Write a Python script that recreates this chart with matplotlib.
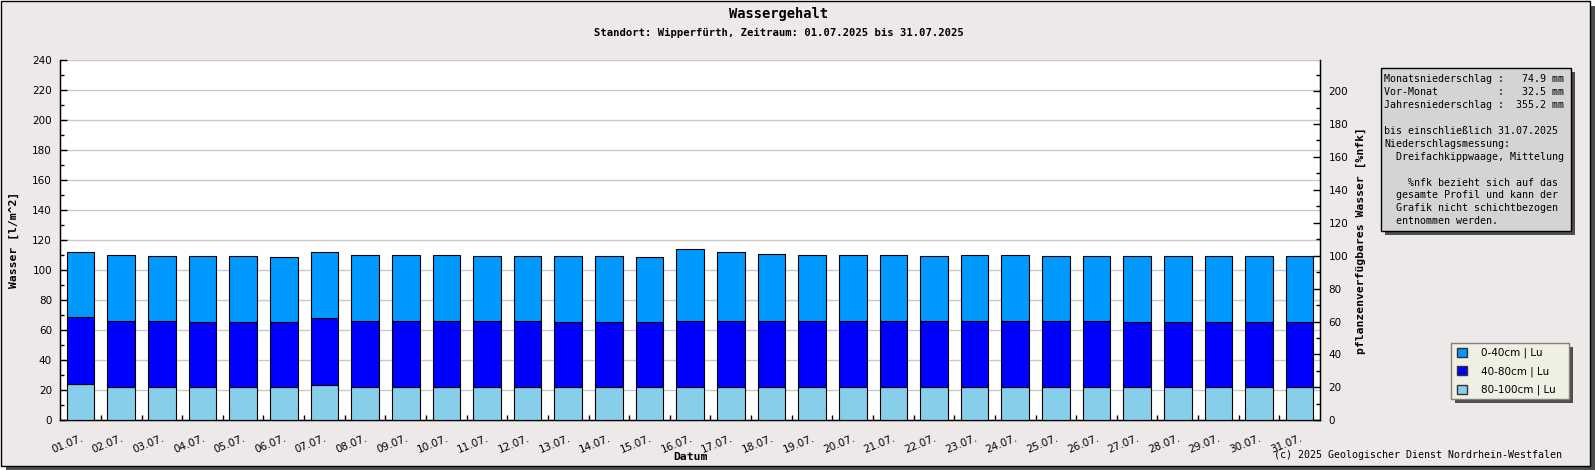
import matplotlib
matplotlib.use("Agg")
import matplotlib.pyplot as plt
from matplotlib.patches import Rectangle, Patch
from matplotlib.ticker import MultipleLocator

# Data, values in l/m^2 per layer
days = ["01.07.", "02.07.", "03.07.", "04.07.", "05.07.", "06.07.", "07.07.",
        "08.07.", "09.07.", "10.07.", "11.07.", "12.07.", "13.07.", "14.07.",
        "15.07.", "16.07.", "17.07.", "18.07.", "19.07.", "20.07.", "21.07.",
        "22.07.", "23.07.", "24.07.", "25.07.", "26.07.", "27.07.", "28.07.",
        "29.07.", "30.07.", "31.07."]
layer_80_100 = [24.4, 22.0, 22.0, 22.0, 22.0, 22.0, 23.8, 22.0, 22.0, 22.0,
                22.0, 22.0, 22.0, 22.0, 22.0, 22.0, 22.0, 22.0, 22.0, 22.0,
                22.0, 22.0, 22.0, 22.0, 22.0, 22.0, 22.0, 22.0, 22.0, 22.0, 22.0]
layer_40_80 = [44.3, 44.0, 44.0, 43.3, 43.3, 43.3, 44.2, 44.0, 44.0, 44.0,
               44.0, 44.0, 43.3, 43.3, 43.3, 44.0, 44.0, 44.0, 44.0, 44.0,
               44.0, 44.0, 44.0, 44.0, 44.0, 44.0, 43.3, 43.3, 43.3, 43.3, 43.3]
layer_0_40 = [43.3, 44.0, 43.3, 44.0, 44.0, 43.4, 44.0, 44.0, 44.0, 44.0,
              43.3, 43.3, 44.0, 44.0, 43.4, 48.0, 46.0, 44.7, 44.0, 44.0,
              44.0, 43.3, 44.0, 44.0, 43.3, 43.3, 44.0, 44.0, 44.0, 44.0, 44.0]
legend_labels = ["0-40cm | Lu", "40-80cm | Lu", "80-100cm | Lu"]

info_lines = [
    "Monatsniederschlag :   74.9 mm",
    "Vor-Monat          :   32.5 mm",
    "Jahresniederschlag :  355.2 mm",
    "",
    "bis einschließlich 31.07.2025",
    "Niederschlagsmessung:",
    "  Dreifachkippwaage, Mittelung",
    "",
    "    %nfk bezieht sich auf das",
    "  gesamte Profil und kann der",
    "  Grafik nicht schichtbezogen",
    "  entnommen werden.",
]

title = "Wassergehalt"
subtitle = "Standort: Wipperfürth, Zeitraum: 01.07.2025 bis 31.07.2025"
copyright_text = "(c) 2025 Geologischer Dienst Nordrhein-Westfalen"

# colours
c_top = "#0099ff"
c_mid = "#0000ff"
c_bot = "#87ceeb"
bg = "#ece9e8"
shadow = "#4e4e4e"
mono = "DejaVu Sans Mono"

W, H = 1595, 470
fig = plt.figure(figsize=(W / 100, H / 100), dpi=100)
fig.patch.set_facecolor("white")


def fx(x):
    return x / W


def fy(y):
    return 1 - y / H


def box(x0, y0, x1, y1, face, edge, off, z):
    # shadow first, then the box itself (pixel coords from top-left)
    fig.add_artist(Rectangle((fx(x0 + off), fy(y1 + off)), (x1 - x0) / W, (y1 - y0) / H,
                             transform=fig.transFigure, facecolor=shadow,
                             edgecolor="none", zorder=z))
    fig.add_artist(Rectangle((fx(x0), fy(y1)), (x1 - x0) / W, (y1 - y0) / H,
                             transform=fig.transFigure, facecolor=face,
                             edgecolor=edge, linewidth=1, zorder=z + 0.1))


# outer frame with shadow
box(0.5, 0.5, 1590, 465.5, bg, "black", 5, -20)

# main axes
ax = fig.add_axes([fx(60.3), fy(420.3), (1320 - 60.3) / W, (420.3 - 60.3) / H])
ax.set_facecolor("white")
x = range(len(days))
bottom2 = [a + b for a, b in zip(layer_80_100, layer_40_80)]
ax.bar(x, layer_80_100, width=0.68, color=c_bot, edgecolor="black", linewidth=0.8, zorder=3)
ax.bar(x, layer_40_80, width=0.68, bottom=layer_80_100, color=c_mid,
       edgecolor="black", linewidth=0.8, zorder=3)
ax.bar(x, layer_0_40, width=0.68, bottom=bottom2, color=c_top,
       edgecolor="black", linewidth=0.8, zorder=3)

ax.set_xlim(-0.5, len(days) - 0.5)
ax.set_ylim(0, 240)
ax.yaxis.set_major_locator(MultipleLocator(20))
ax.yaxis.set_minor_locator(MultipleLocator(10))
ax.yaxis.grid(True, color="#c8c8c8", linewidth=1)
ax.set_axisbelow(True)
ax.tick_params(axis="y", which="major", direction="in", length=5, width=1,
               labelsize=7.5, pad=6)
ax.tick_params(axis="y", which="minor", direction="in", length=3, width=1)

ax.set_xticks(list(x))
ax.set_xticklabels(days, rotation=22, ha="right", rotation_mode="anchor")
ax.set_xticks([i + 0.5 for i in range(len(days) - 1)], minor=True)
ax.tick_params(axis="x", which="major", length=0, labelsize=7.5, pad=9)
ax.tick_params(axis="x", which="minor", direction="in", length=3.6, width=1)

for side in ["left", "right", "bottom"]:
    ax.spines[side].set_color("black")
    ax.spines[side].set_linewidth(1)
ax.spines["top"].set_visible(False)

# right axis (%nfk)
ax2 = ax.twinx()
ax2.set_ylim(0, 218.7)
ax2.yaxis.set_major_locator(MultipleLocator(20))
ax2.yaxis.set_minor_locator(MultipleLocator(10))
ax2.set_yticks(range(0, 201, 20))
ax2.tick_params(axis="y", which="major", direction="in", length=5, width=1,
                labelsize=7.5, pad=6)
ax2.tick_params(axis="y", which="minor", direction="in", length=3, width=1)
ax2.spines["top"].set_visible(False)

# titles and axis labels
fig.text(fx(778.5), fy(14.3), title, ha="center", va="center",
         family=mono, fontweight="bold", fontsize=9.9)
fig.text(fx(778.5), fy(33.3), subtitle, ha="center", va="center",
         family=mono, fontweight="bold", fontsize=7.6)
fig.text(fx(13.5), fy(240.3), "Wasser [l/m^2]", ha="center", va="center",
         rotation=90, family=mono, fontweight="bold", fontsize=8.2)
fig.text(fx(1361), fy(240.3), "pflanzenverfügbares Wasser [%nfk]", ha="center",
         va="center", rotation=90, family=mono, fontweight="bold", fontsize=8.2)
fig.text(fx(690), fy(457), "Datum", ha="center", va="center",
         family=mono, fontweight="bold", fontsize=8.2)
fig.text(fx(1561.7), fy(455), copyright_text, ha="right", va="center",
         family=mono, fontsize=7.2)

# info box
box(1381, 68.3, 1570.7, 231, "#d4d4d4", "black", 4, 1)
for i, line in enumerate(info_lines):
    fig.text(fx(1384), fy(79.3 + i * 12.9), line, ha="left", va="center",
             family=mono, fontsize=7.2, zorder=5)

# legend
box(1450.7, 342.7, 1569.3, 398.7, "#efefe4", "#808080", 4, 1)
handles = [Patch(facecolor=c_top, edgecolor="#333333"),
           Patch(facecolor=c_mid, edgecolor="#333333"),
           Patch(facecolor=c_bot, edgecolor="#333333")]
leg = fig.legend(handles, legend_labels, loc="center left",
                 bbox_to_anchor=(fx(1457), fy(371.5)), frameon=False,
                 fontsize=7.5, handlelength=1.0, handleheight=1.0,
                 handletextpad=1.3, labelspacing=0.75, borderpad=0,
                 borderaxespad=0)
leg.set_zorder(5)

fig.savefig("out.png", dpi=100)
